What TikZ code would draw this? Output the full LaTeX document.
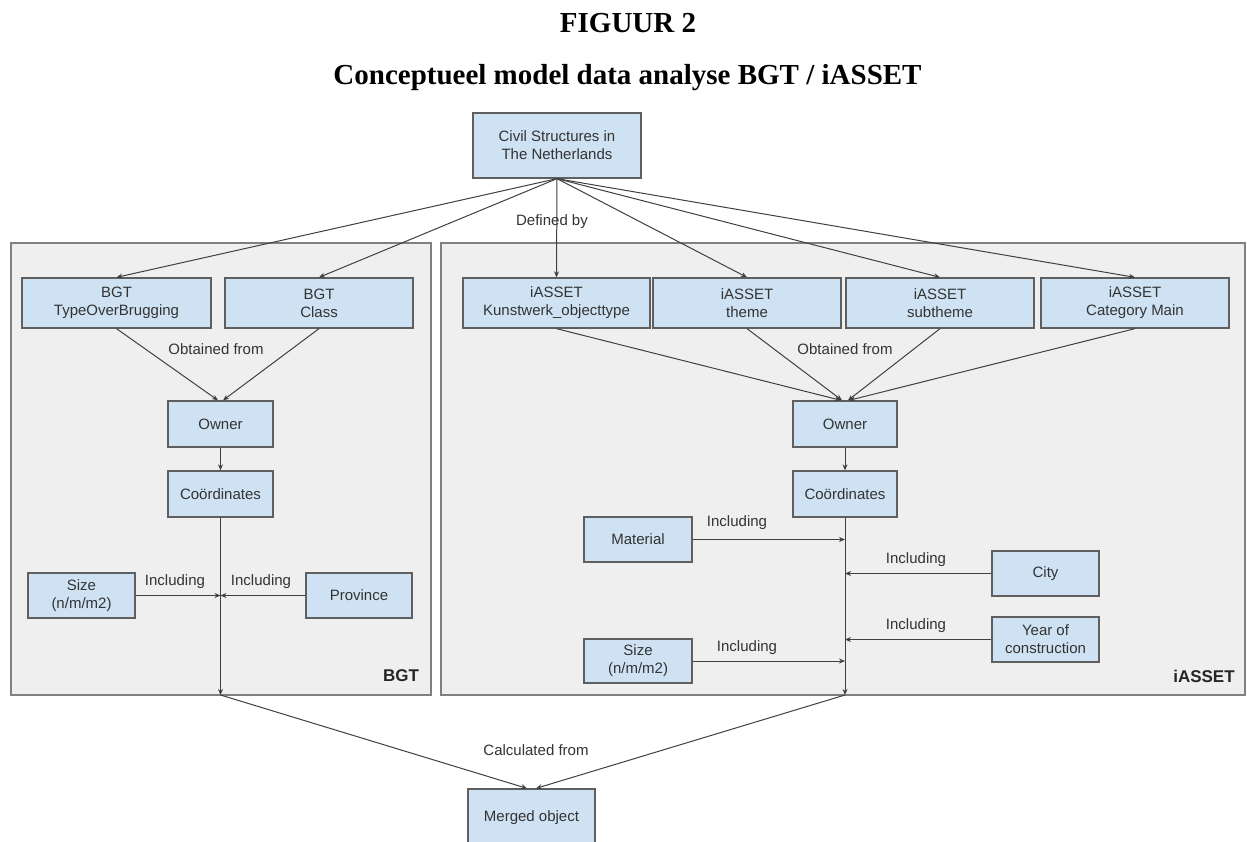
\documentclass[tikz,border=0pt]{standalone}
\usepackage{fontspec}
\setmainfont{Liberation Serif}
\newfontfamily\dfont{Liberation Sans}
\usetikzlibrary{arrows.meta}
\definecolor{boxfill}{HTML}{CFE2F3}
\definecolor{boxline}{HTML}{5F5F5F}
\definecolor{panelfill}{HTML}{EFEFEF}
\definecolor{panelline}{HTML}{808080}
\definecolor{txt}{HTML}{333333}
\definecolor{conncol}{HTML}{404040}
\begin{document}
\begin{tikzpicture}[x=1pt,y=-1pt,
  bx/.style={draw=boxline, fill=boxfill, line width=1.3pt, inner sep=0pt, align=center, text=txt, font=\dfont\fontsize{15}{18}\selectfont},
  panel/.style={draw=panelline, fill=panelfill, line width=1.3pt},
  lbl/.style={text=txt, font=\dfont\fontsize{15}{18}\selectfont, inner sep=0pt},
  plbl/.style={text=black!85, font=\dfont\bfseries\fontsize{17}{20}\selectfont, inner sep=0pt},
  conn/.style={draw=conncol, line width=1pt, -{Stealth[length=6pt,width=5pt]}},
  ttl/.style={font=\bfseries\fontsize{29}{34}\selectfont, inner sep=0pt, anchor=base}]
\useasboundingbox (0,0) rectangle (1247,842);
\fill[white] (0,0) rectangle (1247,842);

% titles
\node[ttl] (fig) at (628,33) {FIGUUR 2};
\node[ttl] (sub) at (627.5,85) {Conceptueel model data analyse BGT / iASSET};

% panels
\path[panel] (11,243) rectangle (431,695);
\path[panel] (441,243) rectangle (1245,695);
\node[plbl] (bgtlbl) at (401,676) {BGT};
\node[plbl] (ialbl) at (1204,676) {iASSET};

% top node
\node[bx, minimum width=168pt, minimum height=65pt] (civil) at (557,145.5) {Civil Structures in\\The Netherlands};

% BGT
\node[bx, minimum width=189pt, minimum height=50pt] (tob) at (116.5,303) {BGT\\TypeOverBrugging};
\node[bx, minimum width=188pt, minimum height=50pt] (cls) at (319,303) {BGT\\Class};
\node[bx, minimum width=105pt, minimum height=46pt] (own1) at (220.5,424) {Owner};
\node[bx, minimum width=105pt, minimum height=46pt] (crd1) at (220.5,494) {Coördinates};
\node[bx, minimum width=107pt, minimum height=45pt] (size1) at (81.5,595.5) {Size\\(n/m/m2)};
\node[bx, minimum width=106pt, minimum height=45pt] (prov) at (359,595.5) {Province};
\coordinate (b1end) at (220.5,695);

% iASSET
\node[bx, minimum width=187pt, minimum height=50pt] (kun) at (556.5,303) {iASSET\\Kunstwerk\_objecttype};
\node[bx, minimum width=188pt, minimum height=50pt] (thm) at (747,303) {iASSET\\theme};
\node[bx, minimum width=188pt, minimum height=50pt] (sbt) at (940,303) {iASSET\\subtheme};
\node[bx, minimum width=188pt, minimum height=50pt] (cat) at (1135,303) {iASSET\\Category Main};
\node[bx, minimum width=104pt, minimum height=46pt] (own2) at (845,424) {Owner};
\node[bx, minimum width=104pt, minimum height=46pt] (crd2) at (845,494) {Coördinates};
\node[bx, minimum width=108pt, minimum height=45pt] (mat) at (638,539.5) {Material};
\node[bx, minimum width=107pt, minimum height=45pt] (city) at (1045.5,573.5) {City};
\node[bx, minimum width=107pt, minimum height=45pt] (year) at (1045.5,639.5) {Year of\\construction};
\node[bx, minimum width=108pt, minimum height=44pt] (size2) at (638,661) {Size\\(n/m/m2)};
\coordinate (b2end) at (845,695);

% merged
\node[bx, minimum width=127pt, minimum height=58pt] (merged) at (531.5,818) {Merged object};

% connectors from top
\draw[conn] (civil.south) -- (tob.north);
\draw[conn] (civil.south) -- (cls.north);
\draw[conn] (civil.south) -- (kun.north);
\draw[conn] (civil.south) -- (thm.north);
\draw[conn] (civil.south) -- (sbt.north);
\draw[conn] (civil.south) -- (cat.north);
\node[lbl] (defby) at (552,222) {Defined by};

% BGT connectors
\draw[conn] (tob.south) -- ([xshift=-2.5pt]own1.north);
\draw[conn] (cls.south) -- ([xshift=2.5pt]own1.north);
\node[lbl] (obt1) at (216,349) {Obtained from};
\draw[conn] (own1) -- (crd1);
\draw[conn] (crd1) -- (b1end);
\draw[conn] (size1.east) -- (size1.east -| crd1.south);
\draw[conn] (prov.west) -- (prov.west -| crd1.south);
\node[lbl] (inc1) at (175,582) {Including};
\node[lbl] (inc2) at (261,582) {Including};

% iASSET connectors
\draw[conn] (kun.south) -- ([xshift=-4pt]own2.north);
\draw[conn] (thm.south) -- ([xshift=-3pt]own2.north);
\draw[conn] (sbt.south) -- ([xshift=3pt]own2.north);
\draw[conn] (cat.south) -- ([xshift=4pt]own2.north);
\node[lbl] (obt2) at (845,349) {Obtained from};
\draw[conn] (own2) -- (crd2);
\draw[conn] (crd2) -- (b2end);
\draw[conn] (mat.east) -- (mat.east -| crd2.south);
\draw[conn] (city.west) -- (city.west -| crd2.south);
\draw[conn] (year.west) -- (year.west -| crd2.south);
\draw[conn] (size2.east) -- (size2.east -| crd2.south);
\node[lbl] (inc3) at (737,523) {Including};
\node[lbl] (inc4) at (916,560) {Including};
\node[lbl] (inc5) at (916,626) {Including};
\node[lbl] (inc6) at (747,648) {Including};

% to merged
\draw[conn] (b1end) -- ([xshift=-4.5pt]merged.north);
\draw[conn] (b2end) -- ([xshift=4.5pt]merged.north);
\node[lbl] (calc) at (536,750) {Calculated from};
\end{tikzpicture}
\end{document}
